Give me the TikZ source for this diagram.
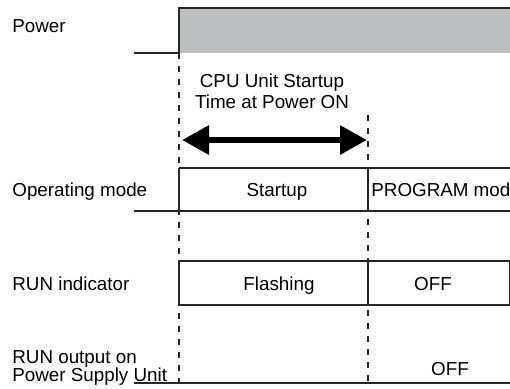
\documentclass[tikz,border=0pt]{standalone}
\usepackage{fontspec}
\setmainfont{Liberation Sans}
\usetikzlibrary{arrows.meta}
\definecolor{powergray}{RGB}{189,190,192}

\tikzset{
  sig/.style={line width=0.7pt, black!85},
  guide/.style={line width=0.6pt, black!85, dash pattern=on 3pt off 3.5pt},
  lbl/.style={anchor=base west, inner sep=0pt, font=\fontsize{9.4}{11}\selectfont},
  val/.style={anchor=base, inner sep=0pt, font=\fontsize{9.4}{11}\selectfont},
  span/.style={{Triangle[length=13.5pt,width=14pt]}-{Triangle[length=13.5pt,width=14pt]}, line width=3pt}
}

\begin{document}
\begin{tikzpicture}[x=0.5pt, y=-0.5pt]
\clip (0,0) rectangle (510,388);

% Power
\fill[powergray] (179,8) rectangle (510,53);
\draw[sig] (134,53) -- (179,53) -- (179,8) -- (510,8);
\node[lbl] (power) at (12,32) {Power};

% Guides
\draw[guide] (179,53) -- (179,383);
\draw[guide] (368,115) -- (368,383);

% Startup time
\node[anchor=north, inner sep=0pt, align=center, font=\fontsize{9.4}{10.5}\selectfont] (cpu) at (272,73) {CPU Unit Startup\\Time at Power ON};
\coordinate (s0) at (182,140);
\coordinate (s1) at (367,140);
\draw[span] (s0) -- (s1);

% Operating mode
\draw[sig] (179,168) -- (510,168);
\draw[sig] (134,211) -- (510,211);
\draw[sig] (179,168) -- (179,211) (368,168) -- (368,211);
\node[lbl] (opmode) at (12,196) {Operating mode};
\node[val] (startup) at (277,196) {Startup};
\node[lbl] (progmode) at (371,196) {PROGRAM mode};

% RUN indicator
\draw[sig] (179,261) rectangle (510,305);
\draw[sig] (368,261) -- (368,305);
\node[lbl] (runind) at (12,290) {RUN indicator};
\node[val] (flash) at (279,290) {Flashing};
\node[val] (off1) at (433,290) {OFF};

% RUN output
\draw[sig] (134,383) -- (510,383);
\node[anchor=north west, inner sep=0pt, align=left, font=\fontsize{9.4}{9}\selectfont] (runout) at (12,350) {RUN output on\\Power Supply Unit};
\node[val] (off2) at (450,375) {OFF};
\end{tikzpicture}
\end{document}
